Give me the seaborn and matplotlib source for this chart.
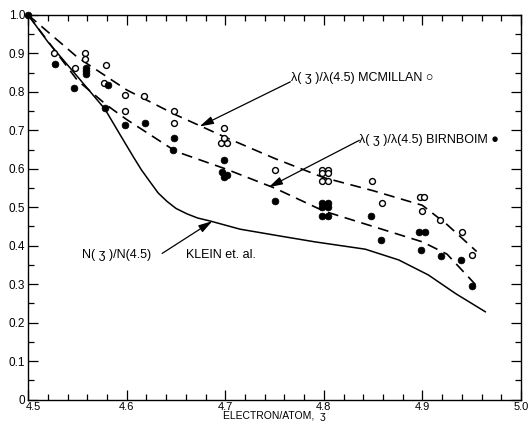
import matplotlib
matplotlib.use("Agg")
import matplotlib.pyplot as plt
import matplotlib.transforms as mtransforms
import seaborn as sns
from matplotlib.ticker import MultipleLocator

# McMillan points (open circles)
mcm_x = [4.526, 4.548, 4.558, 4.558, 4.579, 4.577, 4.598, 4.618, 4.598, 4.648,
         4.648, 4.699, 4.696, 4.702, 4.699, 4.750, 4.798, 4.804, 4.798, 4.804,
         4.798, 4.804, 4.849, 4.859, 4.898, 4.902, 4.900, 4.918, 4.940, 4.950]
mcm_y = [0.900, 0.863, 0.900, 0.885, 0.870, 0.824, 0.793, 0.788, 0.751, 0.751,
         0.718, 0.707, 0.668, 0.668, 0.679, 0.596, 0.598, 0.598, 0.588, 0.588,
         0.567, 0.567, 0.567, 0.510, 0.526, 0.526, 0.489, 0.466, 0.435, 0.376]

# Birnboim points (filled circles)
bir_x = [4.500, 4.527, 4.547, 4.559, 4.559, 4.559, 4.581, 4.578, 4.598, 4.619,
         4.648, 4.647, 4.699, 4.697, 4.702, 4.699, 4.750, 4.798, 4.804, 4.798,
         4.804, 4.798, 4.804, 4.848, 4.858, 4.897, 4.903, 4.899, 4.919, 4.939, 4.950]
bir_y = [1.000, 0.873, 0.811, 0.863, 0.855, 0.847, 0.819, 0.759, 0.715, 0.720,
         0.679, 0.650, 0.624, 0.591, 0.585, 0.578, 0.516, 0.510, 0.510, 0.500,
         0.500, 0.477, 0.477, 0.477, 0.415, 0.435, 0.435, 0.389, 0.372, 0.363, 0.294]

# dashed guide curves
mcm_fit_x = [4.50, 4.55, 4.60, 4.65, 4.70, 4.75, 4.80, 4.85, 4.90, 4.925, 4.955]
mcm_fit_y = [1.00, 0.89, 0.805, 0.740, 0.682, 0.627, 0.577, 0.543, 0.505, 0.455, 0.385]
bir_fit_x = [4.50, 4.55, 4.58, 4.60, 4.65, 4.70, 4.75, 4.80, 4.85, 4.90, 4.925, 4.956]
bir_fit_y = [1.00, 0.83, 0.765, 0.728, 0.645, 0.600, 0.550, 0.490, 0.450, 0.410, 0.378, 0.293]

# Klein et al. density of states ratio (solid)
klein_x = [4.50, 4.52, 4.55, 4.578, 4.593, 4.607, 4.615, 4.624, 4.632, 4.641,
           4.650, 4.661, 4.672, 4.685, 4.715, 4.756, 4.791, 4.842, 4.876, 4.906,
           4.934, 4.964]
klein_y = [1.00, 0.93, 0.84, 0.755, 0.69, 0.63, 0.597, 0.565, 0.537, 0.515,
           0.497, 0.483, 0.472, 0.464, 0.443, 0.425, 0.410, 0.391, 0.363, 0.324,
           0.275, 0.228]

y_ticks = [0, 0.1, 0.2, 0.3, 0.4, 0.5, 0.6, 0.7, 0.8, 0.9, 1.0]
y_labels = ["0", "0.1", "0.2", "0.3", "0.4", "0.5", "0.6", "0.7", "0.8", "0.9", "1.0"]
x_ticks = [4.5, 4.6, 4.7, 4.8, 4.9, 5.0]
x_labels = ["4.5", "4.6", "4.7", "4.8", "4.9", "5.0"]

sns.set_theme(style="ticks")
plt.rcParams["font.family"] = ["Liberation Sans", "DejaVu Sans"]

fig = plt.figure(figsize=(5.3, 4.26), dpi=100)
ax = fig.add_axes([0.053, 0.062, 0.930, 0.903])

sns.lineplot(x=klein_x, y=klein_y, ax=ax, color="black", linewidth=1.1,
             sort=False, estimator=None)
sns.lineplot(x=mcm_fit_x, y=mcm_fit_y, ax=ax, color="black", linewidth=1.2,
             sort=False, estimator=None)
ax.lines[-1].set_dashes([6.5, 4])
sns.lineplot(x=bir_fit_x, y=bir_fit_y, ax=ax, color="black", linewidth=1.2,
             sort=False, estimator=None)
ax.lines[-1].set_dashes([6.5, 4])

sns.scatterplot(x=mcm_x, y=mcm_y, ax=ax, color="white", edgecolor="black",
                linewidth=1.0, s=18, marker="o", zorder=3, clip_on=False)
sns.scatterplot(x=bir_x, y=bir_y, ax=ax, color="black", edgecolor="black",
                linewidth=0.5, s=24, marker="o", zorder=3, clip_on=False)

ax.set_xlim(4.5, 5.0)
ax.set_ylim(0, 1.0)
ax.set_xticks(x_ticks)
ax.set_xticklabels(x_labels)
ax.set_yticks(y_ticks)
ax.set_yticklabels(y_labels)
ax.xaxis.set_minor_locator(MultipleLocator(0.02))
ax.yaxis.set_minor_locator(MultipleLocator(0.05))
ax.tick_params(which="both", direction="in", top=True, right=True,
               color="black", width=0.9, labelsize=8.5, labelcolor="black")
ax.tick_params(which="major", length=7)
ax.tick_params(which="minor", length=4.5)
ax.tick_params(axis="y", pad=2)
ax.tick_params(axis="x", pad=1.5, labelsize=8)
for s in ax.spines.values():
    s.set_color("black")
    s.set_linewidth(1.0)

# first x label sits a little to the right of its tick, clear of the "0"
first = ax.get_xticklabels()[0]
first.set_transform(first.get_transform() +
                    mtransforms.ScaledTranslation(5 / 100, 0, fig.dpi_scale_trans))

ax.set_xlabel("ELECTRON/ATOM,  ʒ", fontsize=7.5, labelpad=-0.5, color="black")
ax.set_ylabel("")

arrow = dict(arrowstyle="-|>,head_length=0.7,head_width=0.2", color="black",
             lw=0.9, shrinkA=0, shrinkB=0)
ax.annotate("", xy=(4.674, 0.710), xytext=(4.766, 0.826), arrowprops=arrow)
ax.annotate("", xy=(4.744, 0.552), xytext=(4.836, 0.674), arrowprops=arrow)
ax.annotate("", xy=(4.687, 0.464), xytext=(4.636, 0.380), arrowprops=arrow)

ax.text(4.767, 0.837, "λ( ʒ )/λ(4.5) MCMILLAN ○", fontsize=9, va="center",
        ha="left", color="black")
ax.text(4.836, 0.674, "λ( ʒ )/λ(4.5) BIRNBOIM ●", fontsize=9, va="center",
        ha="left", color="black")
ax.text(4.555, 0.376, "N( ʒ )/N(4.5)", fontsize=9,
        va="center", ha="left", color="black")
ax.text(4.660, 0.376, "KLEIN et. al.", fontsize=9,
        va="center", ha="left", color="black")

fig.savefig("out.png", dpi=100)
